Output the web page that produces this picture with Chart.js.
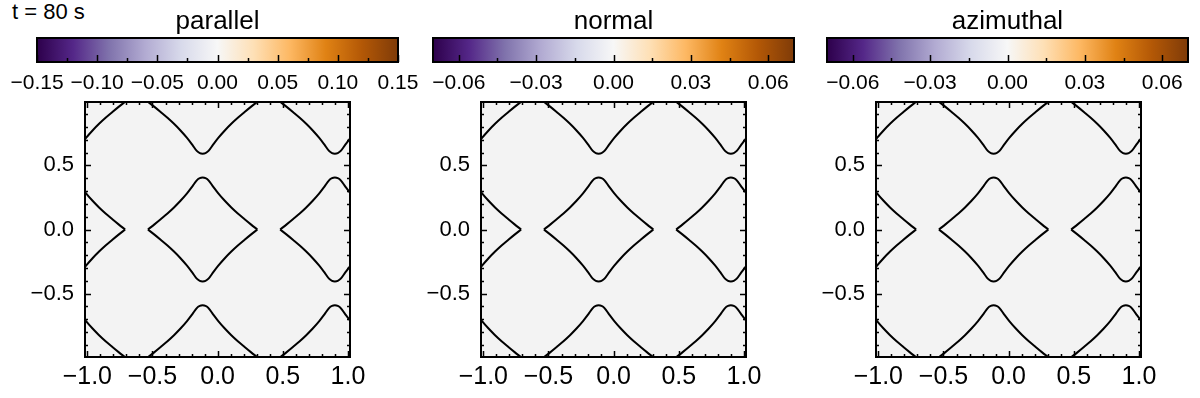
<!DOCTYPE html>
<html>
<head>
<meta charset="utf-8">
<script src="https://cdn.jsdelivr.net/npm/chart.js@4.4.1/dist/chart.umd.min.js"></script>
<style>
html, body { margin: 0; padding: 0; background: #fff; }
#wrap { position: relative; width: 1200px; height: 398px; overflow: hidden; }
#wrap canvas { position: absolute; }
#tlabel { position: absolute; left: 12px; top: -1px; font: 22px "Liberation Sans", Arial, sans-serif; color: #000; white-space: pre; }
</style>
</head>
<body>
<div id="wrap"><div id="tlabel"></div></div>
<script>
// ---- data ----
const timeLabel = 't = 80 s';
const panelTitles = ['parallel', 'normal', 'azimuthal'];

const cbRangeParallel = [-0.15, 0.15];
const cbRangeOther = [-0.07, 0.07];
const cbTicksParallel = [-0.15, -0.125, -0.1, -0.075, -0.05, -0.025, 0, 0.025, 0.05, 0.075, 0.1, 0.125, 0.15];
const cbLabelsParallel = [-0.15, -0.10, -0.05, 0.00, 0.05, 0.10, 0.15];
const cbTicksOther = [-0.06, -0.045, -0.03, -0.015, 0, 0.015, 0.03, 0.045, 0.06];
const cbLabelsOther = [-0.06, -0.03, 0.00, 0.03, 0.06];

const xRange = [-1.018, 1.016];
const yRange = [-0.995, 0.995];
const xTickLabels = [-1.0, -0.5, 0.0, 0.5, 1.0];
const yTickLabels = [-0.5, 0.0, 0.5];
const xMinorTicks = [-1.0, -0.9, -0.8, -0.7, -0.6, -0.5, -0.4, -0.3, -0.2, -0.1, 0, 0.1, 0.2, 0.3, 0.4, 0.5, 0.6, 0.7, 0.8, 0.9, 1.0];
const yMinorTicks = [-0.9, -0.8, -0.7, -0.6, -0.5, -0.4, -0.3, -0.2, -0.1, 0, 0.1, 0.2, 0.3, 0.4, 0.5, 0.6, 0.7, 0.8, 0.9];

// contour lines (same in all three panels), [x, y]
const centerUpper = [[-0.535, 0], [-0.485, 0.040], [-0.435, 0.082], [-0.385, 0.125], [-0.335, 0.172], [-0.285, 0.224], [-0.235, 0.282], [-0.195, 0.335], [-0.160, 0.384], [-0.137, 0.401], [-0.115, 0.405], [-0.093, 0.401], [-0.070, 0.384], [-0.035, 0.335], [0.005, 0.282], [0.055, 0.224], [0.105, 0.172], [0.155, 0.125], [0.205, 0.082], [0.255, 0.040], [0.305, 0]];
const centerLower = [[-0.535, 0], [-0.485, -0.040], [-0.435, -0.082], [-0.385, -0.125], [-0.335, -0.172], [-0.285, -0.224], [-0.235, -0.282], [-0.195, -0.335], [-0.160, -0.384], [-0.137, -0.401], [-0.115, -0.405], [-0.093, -0.401], [-0.070, -0.384], [-0.035, -0.335], [0.005, -0.282], [0.055, -0.224], [0.105, -0.172], [0.155, -0.125], [0.205, -0.082], [0.255, -0.040], [0.305, 0]];
const leftUpper = [[-1.050, 0.335], [-1.010, 0.282], [-0.960, 0.224], [-0.910, 0.172], [-0.860, 0.125], [-0.810, 0.082], [-0.760, 0.040], [-0.710, 0]];
const leftLower = [[-1.050, -0.335], [-1.010, -0.282], [-0.960, -0.224], [-0.910, -0.172], [-0.860, -0.125], [-0.810, -0.082], [-0.760, -0.040], [-0.710, 0]];
const rightUpper = [[0.480, 0], [0.530, 0.040], [0.580, 0.082], [0.630, 0.125], [0.680, 0.172], [0.730, 0.224], [0.780, 0.282], [0.820, 0.335], [0.855, 0.384], [0.878, 0.401], [0.900, 0.405], [0.922, 0.401], [0.945, 0.384], [0.980, 0.335], [1.020, 0.282], [1.070, 0.224]];
const rightLower = [[0.480, 0], [0.530, -0.040], [0.580, -0.082], [0.630, -0.125], [0.680, -0.172], [0.730, -0.224], [0.780, -0.282], [0.820, -0.335], [0.855, -0.384], [0.878, -0.401], [0.900, -0.405], [0.922, -0.401], [0.945, -0.384], [0.980, -0.335], [1.020, -0.282], [1.070, -0.224]];
const topLeftArc = [[-1.050, 0.662], [-1.010, 0.715], [-0.960, 0.773], [-0.910, 0.825], [-0.860, 0.872], [-0.810, 0.915], [-0.760, 0.957], [-0.710, 0.997]];
const topCenterArc = [[-0.535, 0.997], [-0.485, 0.957], [-0.435, 0.915], [-0.385, 0.872], [-0.335, 0.825], [-0.285, 0.773], [-0.235, 0.715], [-0.195, 0.662], [-0.160, 0.613], [-0.137, 0.596], [-0.115, 0.592], [-0.093, 0.596], [-0.070, 0.613], [-0.035, 0.662], [0.005, 0.715], [0.055, 0.773], [0.105, 0.825], [0.155, 0.872], [0.205, 0.915], [0.255, 0.957], [0.305, 0.997]];
const topRightArc = [[0.480, 0.997], [0.530, 0.957], [0.580, 0.915], [0.630, 0.872], [0.680, 0.825], [0.730, 0.773], [0.780, 0.715], [0.820, 0.662], [0.855, 0.613], [0.878, 0.596], [0.900, 0.592], [0.922, 0.596], [0.945, 0.613], [0.980, 0.662], [1.020, 0.715], [1.070, 0.773]];
const bottomLeftArc = [[-1.050, -0.662], [-1.010, -0.715], [-0.960, -0.773], [-0.910, -0.825], [-0.860, -0.872], [-0.810, -0.915], [-0.760, -0.957], [-0.710, -0.997]];
const bottomCenterArc = [[-0.535, -0.997], [-0.485, -0.957], [-0.435, -0.915], [-0.385, -0.872], [-0.335, -0.825], [-0.285, -0.773], [-0.235, -0.715], [-0.195, -0.662], [-0.160, -0.613], [-0.137, -0.596], [-0.115, -0.592], [-0.093, -0.596], [-0.070, -0.613], [-0.035, -0.662], [0.005, -0.715], [0.055, -0.773], [0.105, -0.825], [0.155, -0.872], [0.205, -0.915], [0.255, -0.957], [0.305, -0.997]];
const bottomRightArc = [[0.480, -0.997], [0.530, -0.957], [0.580, -0.915], [0.630, -0.872], [0.680, -0.825], [0.730, -0.773], [0.780, -0.715], [0.820, -0.662], [0.855, -0.613], [0.878, -0.596], [0.900, -0.592], [0.922, -0.596], [0.945, -0.613], [0.980, -0.662], [1.020, -0.715], [1.070, -0.773]];

const contourCurves = [centerUpper, centerLower, leftUpper, leftLower, rightUpper, rightLower,
  topLeftArc, topCenterArc, topRightArc, bottomLeftArc, bottomCenterArc, bottomRightArc];

// ---- layout / style ----
const FONT = '"Liberation Sans", Arial, Helvetica, sans-serif';
const panelLeft = [85, 481, 876];
const plotTop = 102, plotW = 265, plotH = 255;
const cbLeft = [37, 433, 827];
const cbW = 361;
// PuOr, purple for negative, orange for positive
const cbStops = ['#2d004b', '#542788', '#8073ac', '#b2abd2', '#d8daeb', '#f7f7f7', '#fee0b6', '#fdb863', '#e08214', '#b35806', '#7f3b08'];

Chart.defaults.font.family = FONT;
Chart.defaults.color = '#000';

const wrap = document.getElementById('wrap');
document.getElementById('tlabel').textContent = timeLabel;

function fmt(v, d) {
  return (v < 0 ? '\u2212' : '') + Math.abs(v).toFixed(d);
}
function isMajor(v, list) {
  return list.some(m => Math.abs(m - v) < 1e-9);
}

function addCanvas(left, top, w, h) {
  const cv = document.createElement('canvas');
  cv.width = w; cv.height = h;
  cv.style.left = left + 'px';
  cv.style.top = top + 'px';
  cv.style.width = w + 'px';
  cv.style.height = h + 'px';
  wrap.appendChild(cv);
  return cv;
}

function cbGradient(chart) {
  const a = chart.chartArea;
  if (!a) return cbStops[5];
  const g = chart.ctx.createLinearGradient(a.left, 0, a.right, 0);
  cbStops.forEach((c, k) => g.addColorStop(k / (cbStops.length - 1), c));
  return g;
}

// frame + inward ticks for the colour bar
const cbFrame = {
  id: 'cbframe',
  afterDatasetsDraw(chart, args, opts) {
    const { ctx, chartArea: a } = chart;
    const sx = chart.scales.x;
    ctx.save();
    ctx.strokeStyle = '#000';
    ctx.lineWidth = 1.5;
    ctx.beginPath();
    opts.ticks.forEach(v => {
      const px = Math.round(sx.getPixelForValue(v)) + 0.5;
      const len = isMajor(v, opts.major) ? 7 : 4;
      ctx.moveTo(px, a.bottom);
      ctx.lineTo(px, a.bottom - len);
    });
    ctx.stroke();
    ctx.lineWidth = 2;
    ctx.strokeRect(a.left, a.top, a.right - a.left, a.bottom - a.top);
    ctx.restore();
  }
};

// background, frame and inward ticks on four sides for the contour plots
const plotFrame = {
  id: 'plotframe',
  beforeDatasetsDraw(chart) {
    const { ctx, chartArea: a } = chart;
    ctx.save();
    ctx.fillStyle = '#f3f3f3';
    ctx.fillRect(a.left, a.top, a.right - a.left, a.bottom - a.top);
    ctx.restore();
  },
  afterDatasetsDraw(chart) {
    const { ctx, chartArea: a } = chart;
    const sx = chart.scales.x, sy = chart.scales.y;
    ctx.save();
    ctx.strokeStyle = '#000';
    ctx.lineWidth = 1.5;
    ctx.beginPath();
    xMinorTicks.forEach(v => {
      const px = Math.round(sx.getPixelForValue(v)) + 0.5;
      const len = isMajor(v, xTickLabels) ? 6 : 3;
      ctx.moveTo(px, a.bottom); ctx.lineTo(px, a.bottom - len);
      ctx.moveTo(px, a.top); ctx.lineTo(px, a.top + len);
    });
    yMinorTicks.forEach(v => {
      const py = Math.round(sy.getPixelForValue(v)) + 0.5;
      const len = isMajor(v, yTickLabels) ? 6 : 3;
      ctx.moveTo(a.left, py); ctx.lineTo(a.left + len, py);
      ctx.moveTo(a.right, py); ctx.lineTo(a.right - len, py);
    });
    ctx.stroke();
    ctx.lineWidth = 2;
    ctx.strokeRect(a.left, a.top, a.right - a.left, a.bottom - a.top);
    ctx.restore();
  }
};

function makeColorbar(i) {
  const range = i === 0 ? cbRangeParallel : cbRangeOther;
  const ticks = i === 0 ? cbTicksParallel : cbTicksOther;
  const labels = i === 0 ? cbLabelsParallel : cbLabelsOther;
  const pad = 36;
  const cv = addCanvas(cbLeft[i] - pad, 0, cbW + 2 * pad, 100);
  new Chart(cv, {
    type: 'bar',
    data: {
      labels: [panelTitles[i]],
      datasets: [{
        data: [range],
        backgroundColor: ctx => cbGradient(ctx.chart),
        borderWidth: 0,
        barPercentage: 1,
        categoryPercentage: 1
      }]
    },
    options: {
      indexAxis: 'y',
      responsive: false,
      animation: false,
      devicePixelRatio: 1,
      layout: { padding: { left: pad, right: pad, top: 0, bottom: 0 } },
      plugins: {
        legend: { display: false },
        tooltip: { enabled: false },
        title: {
          display: true,
          text: panelTitles[i],
          color: '#000',
          font: { size: 26, weight: 'normal', lineHeight: 1 },
          padding: { top: 9, bottom: 3 }
        },
        cbframe: { ticks: ticks, major: labels }
      },
      scales: {
        x: {
          type: 'linear',
          min: range[0],
          max: range[1],
          grid: { display: false, drawTicks: false },
          border: { display: false },
          afterBuildTicks: s => { s.ticks = labels.map(v => ({ value: v })); },
          afterFit: s => { s.height = 38; },
          ticks: {
            autoSkip: false,
            maxRotation: 0,
            padding: 9,
            font: { size: 21 },
            callback: v => fmt(v, 2)
          }
        },
        y: { display: false }
      }
    },
    plugins: [cbFrame]
  });
}

function makeContour(i) {
  const left = 70, top = 10, right = 25, bottom = 45;
  const cv = addCanvas(panelLeft[i] - left, plotTop - top, plotW + left + right, plotH + top + bottom);
  new Chart(cv, {
    type: 'scatter',
    data: {
      datasets: contourCurves.map(c => ({
        data: c.map(p => ({ x: p[0], y: p[1] })),
        showLine: true,
        borderColor: '#000',
        borderWidth: 2,
        pointRadius: 0,
        tension: 0.3,
        fill: false,
        clip: 0
      }))
    },
    options: {
      responsive: false,
      animation: false,
      devicePixelRatio: 1,
      layout: { padding: { left: 0, right: right, top: top, bottom: 0 } },
      plugins: { legend: { display: false }, tooltip: { enabled: false } },
      scales: {
        x: {
          type: 'linear',
          min: xRange[0],
          max: xRange[1],
          grid: { display: false, drawTicks: false },
          border: { display: false },
          afterBuildTicks: s => { s.ticks = xTickLabels.map(v => ({ value: v })); },
          afterFit: s => { s.height = bottom; s.paddingLeft = 0; s.paddingRight = 0; },
          ticks: { autoSkip: false, maxRotation: 0, padding: 5, font: { size: 25 }, callback: v => fmt(v, 1) }
        },
        y: {
          type: 'linear',
          min: yRange[0],
          max: yRange[1],
          grid: { display: false, drawTicks: false },
          border: { display: false },
          afterBuildTicks: s => { s.ticks = yTickLabels.map(v => ({ value: v })); },
          afterFit: s => { s.width = left; s.paddingTop = 0; s.paddingBottom = 0; },
          ticks: { autoSkip: false, padding: 11, font: { size: 22 }, callback: v => fmt(v, 1) }
        }
      }
    },
    plugins: [plotFrame]
  });
}

for (let i = 0; i < 3; i++) {
  makeColorbar(i);
  makeContour(i);
}
</script>
</body>
</html>
